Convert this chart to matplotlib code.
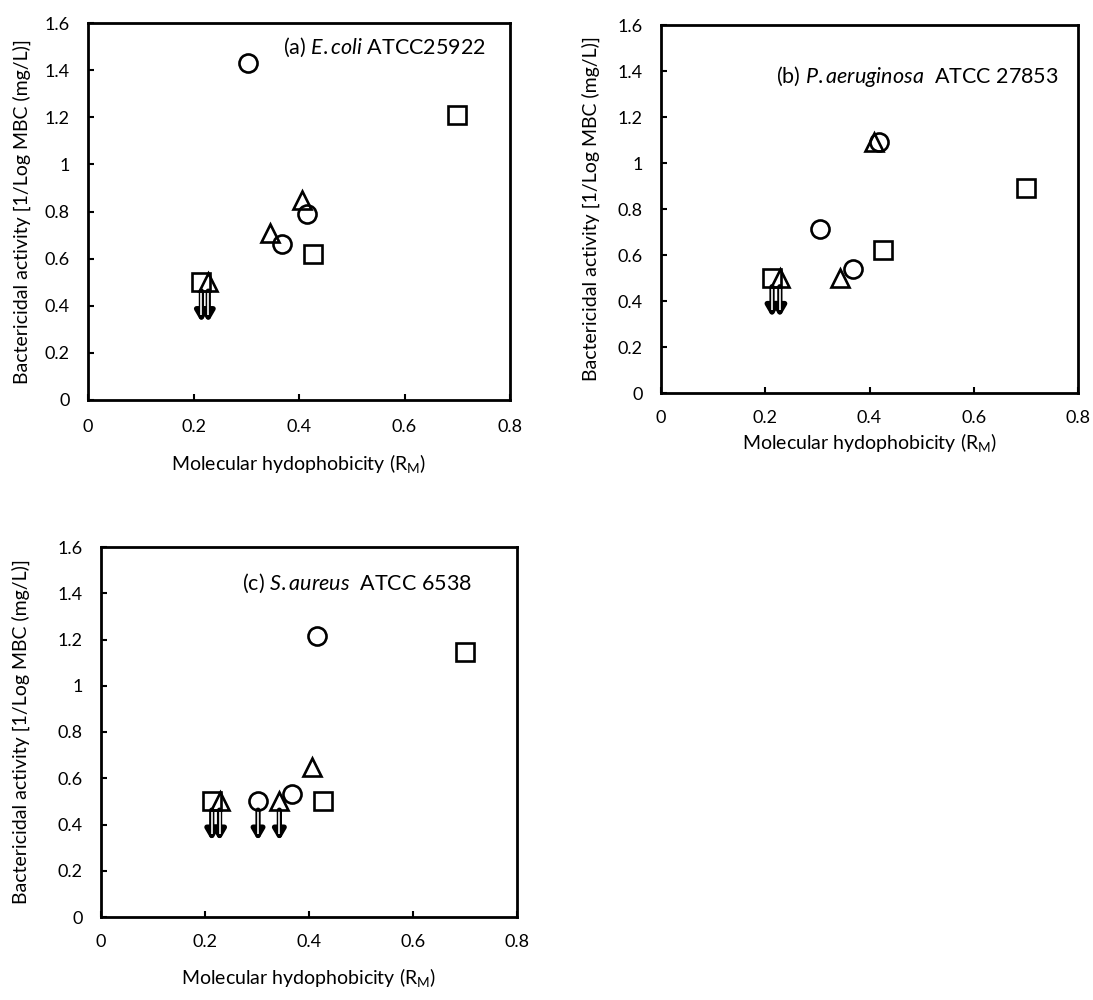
import matplotlib
matplotlib.use("Agg")
import matplotlib.pyplot as plt

plt.rcParams["font.family"] = ["Lato", "DejaVu Sans"]
plt.rcParams["mathtext.fontset"] = "custom"
plt.rcParams["mathtext.rm"] = "Lato"
plt.rcParams["mathtext.it"] = "Lato:italic"

# (a) E. coli
a_circle_x = [0.303, 0.416, 0.368]
a_circle_y = [1.43, 0.79, 0.66]
a_square_x = [0.700, 0.426, 0.215]
a_square_y = [1.21, 0.62, 0.50]
a_triangle_x = [0.405, 0.345, 0.228]
a_triangle_y = [0.85, 0.71, 0.50]
a_arrow_x = [0.215, 0.228]

# (b) P. aeruginosa
b_circle_x = [0.305, 0.368, 0.418]
b_circle_y = [0.715, 0.54, 1.09]
b_square_x = [0.700, 0.425, 0.213]
b_square_y = [0.89, 0.62, 0.50]
b_triangle_x = [0.408, 0.343, 0.228]
b_triangle_y = [1.09, 0.50, 0.50]
b_arrow_x = [0.213, 0.228]

# (c) S. aureus
c_circle_x = [0.416, 0.368, 0.302]
c_circle_y = [1.215, 0.53, 0.50]
c_square_x = [0.700, 0.426, 0.213]
c_square_y = [1.145, 0.50, 0.50]
c_triangle_x = [0.405, 0.343, 0.228]
c_triangle_y = [0.65, 0.50, 0.50]
c_arrow_x = [0.213, 0.228, 0.302, 0.343]

arrow_start = 0.462
arrow_tip = 0.33

xticks = [0, 0.2, 0.4, 0.6, 0.8]
yticks = [0, 0.2, 0.4, 0.6, 0.8, 1.0, 1.2, 1.4, 1.6]
xtick_labels = ["0", "0.2", "0.4", "0.6", "0.8"]
ytick_labels = ["0", "0.2", "0.4", "0.6", "0.8", "1", "1.2", "1.4", "1.6"]

W, H = 1093, 1000
fig = plt.figure(figsize=(W / 100, H / 100), dpi=100)


def px_axes(left, top, right, bottom):
    return fig.add_axes([left / W, 1 - bottom / H, (right - left) / W, (bottom - top) / H])


def panel(ax, cx, cy, sx, sy, tx, ty, arrows, title, title_pos, xlab_y, ylab_x, xpad=12):
    mk = dict(ls="none", mfc="none", mec="black", mew=1.9, ms=13, zorder=3)
    # downward arrows mark values below the detection limit
    for x in arrows:
        ax.annotate("", xy=(x, arrow_tip), xytext=(x, arrow_start),
                    arrowprops=dict(arrowstyle="-|>,head_width=0.35,head_length=0.6",
                                    color="black", lw=3.8, mutation_scale=10,
                                    shrinkA=0, shrinkB=0), zorder=2)
        ax.plot([x, x], [arrow_start - 0.005, arrow_tip + 0.03], color="white",
                lw=1.2, solid_capstyle="butt", zorder=2.5)
    ax.plot(cx, cy, marker="o", **mk)
    ax.plot(sx, sy, marker="s", **dict(mk, ms=12.5))
    ax.plot(tx, ty, marker="^", **dict(mk, ms=13.5))

    ax.set_xlim(0, 0.8)
    ax.set_ylim(0, 1.6)
    ax.set_xticks(xticks)
    ax.set_xticklabels(xtick_labels)
    ax.set_yticks(yticks)
    ax.set_yticklabels(ytick_labels)
    ax.tick_params(direction="in", length=4, width=1.5, labelsize=13)
    ax.tick_params(axis="y", pad=13)
    ax.tick_params(axis="x", pad=xpad)
    for s in ax.spines.values():
        s.set_linewidth(2)
    ax.set_xlabel(r"Molecular hydophobicity (R$_\mathregular{M}$)", fontsize=14)
    ax.set_ylabel("Bactericidal activity [1/Log MBC (mg/L)]", fontsize=14)
    ax.xaxis.set_label_coords(0.5, xlab_y)
    ax.yaxis.set_label_coords(ylab_x, 0.5)
    ax.text(title_pos[0], title_pos[1], title, transform=ax.transAxes,
            fontsize=15.5, ha="left", va="center")


ax_a = px_axes(88, 23, 510, 400)
panel(ax_a, a_circle_x, a_circle_y, a_square_x, a_square_y,
      a_triangle_x, a_triangle_y, a_arrow_x,
      r"(a) $\mathit{E.coli}$ ATCC25922", (0.462, 0.936), -0.137, -0.135, xpad=14)

ax_b = px_axes(661, 25, 1078, 393)
panel(ax_b, b_circle_x, b_circle_y, b_square_x, b_square_y,
      b_triangle_x, b_triangle_y, b_arrow_x,
      r"(b) $\mathit{P.aeruginosa}$  ATCC 27853", (0.276, 0.861), -0.103, -0.146)

ax_c = px_axes(101, 547, 517, 917)
panel(ax_c, c_circle_x, c_circle_y, c_square_x, c_square_y,
      c_triangle_x, c_triangle_y, c_arrow_x,
      r"(c) $\mathit{S.aureus}$  ATCC 6538", (0.339, 0.903), -0.132, -0.17)

fig.savefig("out.png", dpi=100)
